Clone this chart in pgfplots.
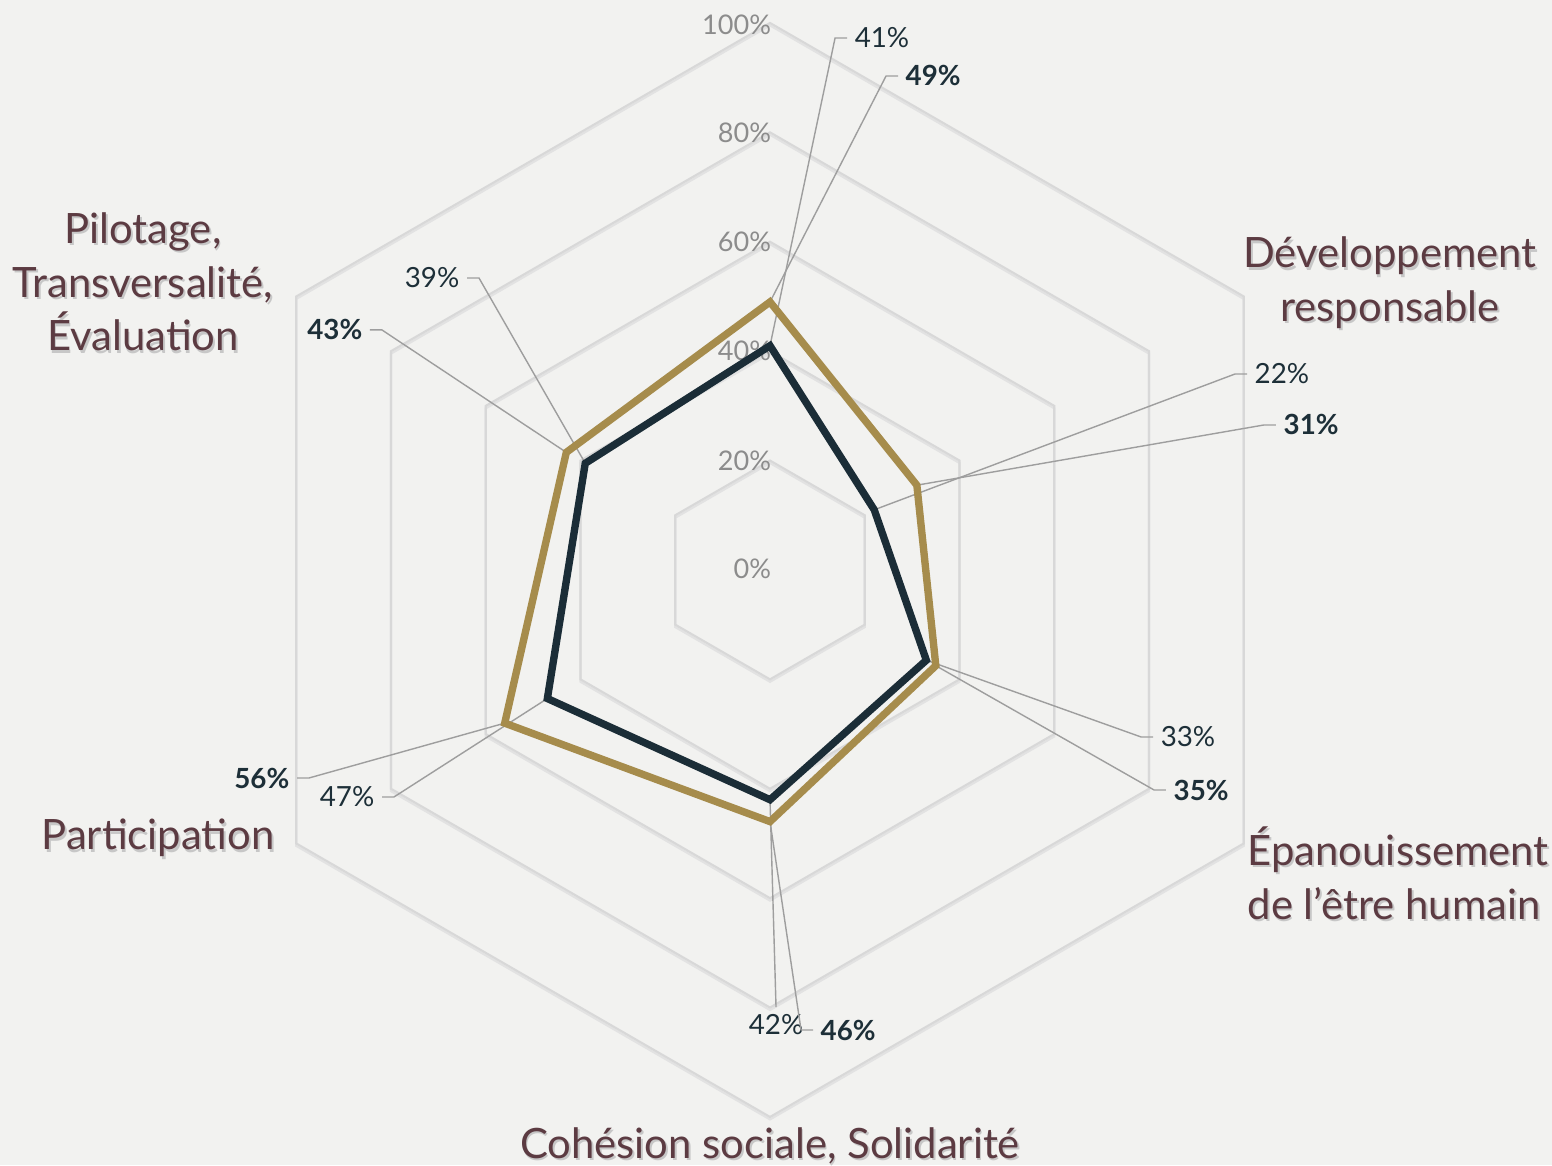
\documentclass[border=0pt]{standalone}
\usepackage{pgfplots}
\pgfplotsset{compat=1.18}
\usepackage{fontspec}
\setmainfont{Lato}
\definecolor{bg}{HTML}{F2F2F0}
\definecolor{gridc}{HTML}{D8D8D8}
\definecolor{gridsh}{HTML}{E2E2E2}
\definecolor{goldc}{HTML}{A68C4C}
\definecolor{navyc}{HTML}{1B2D37}
\definecolor{leaderc}{HTML}{9E9E9E}
\definecolor{tickc}{HTML}{8C8C8C}
\definecolor{catc}{HTML}{5C3B42}
\definecolor{valc}{HTML}{1D2F38}
\tikzset{
  leader/.style={leaderc, line width=0.4pt},
  val/.style={text=valc, font=\fontsize{7.9}{10}\selectfont, inner sep=2pt},
  ticklab/.style={text=tickc, font=\fontsize{7.7}{10}\selectfont, inner sep=0pt, anchor=east},
  cat/.style={text=catc, font=\fontsize{11.9}{15.3}\selectfont, align=center, inner sep=0pt},
  catsh/.style={text=black!22, font=\fontsize{11.9}{15.3}\selectfont, align=center, inner sep=0pt},
}
\begin{document}
\begin{tikzpicture}
\begin{axis}[
  scale only axis, width=15.52cm, height=11.65cm,
  xmin=-140.77, xmax=142.96, ymin=-108.78, ymax=104.20,
  axis lines=none, ticks=none, clip=false,
  axis background/.style={fill=bg},
  ring/.style={gridc, line width=0.6pt, data cs=polar},
  ringsh/.style={gridsh, line width=0.6pt, data cs=polar, yshift=-0.7pt},
  series/.style={line width=2.1pt, line join=miter, data cs=polar},
]
% grid rings (shadow, then line)
\foreach \r in {20,40,60,80,100} {
  \edef\temp{\noexpand\addplot[ringsh] coordinates {(90,\r) (30,\r) (-30,\r) (-90,\r) (210,\r) (150,\r)} -- cycle;}
  \temp
  \edef\temp{\noexpand\addplot[ring] coordinates {(90,\r) (30,\r) (-30,\r) (-90,\r) (210,\r) (150,\r)} -- cycle;}
  \temp
}
% tick labels
\node[ticklab] at (axis cs:0.3,0.3) {0\%};
\node[ticklab] at (axis cs:0.3,20) {20\%};
\node[ticklab] at (axis cs:0.3,40) {40\%};
\node[ticklab] at (axis cs:0.3,60) {60\%};
\node[ticklab] at (axis cs:0.3,80) {80\%};
\node[ticklab] at (axis cs:0.3,99.6) {100\%};

% value labels
\node[val, anchor=west] (a1) at (axis cs:14.08,97.26) {41\%};
\node[val, anchor=west] (b1) at (axis cs:23.40,90.31) {\textbf{49\%}};
\node[val, anchor=west] (a2) at (axis cs:87.20,35.83) {22\%};
\node[val, anchor=west] (b2) at (axis cs:92.50,26.51) {\textbf{31\%}};
\node[val, anchor=west] (a3) at (axis cs:70.02,-30.53) {33\%};
\node[val, anchor=west] (b3) at (axis cs:72.39,-40.22) {\textbf{35\%}};
\node[val, anchor=north] (a4) at (axis cs:1.10,-79.9) {42\%};
\node[val, anchor=west] (b4) at (axis cs:7.86,-84.10) {\textbf{46\%}};
\node[val, anchor=east] (a5) at (axis cs:-70.93,-41.50) {47\%};
\node[val, anchor=east] (b5) at (axis cs:-86.47,-38.03) {\textbf{56\%}};
\node[val, anchor=east] (a6) at (axis cs:-55.39,53.38) {39\%};
\node[val, anchor=east] (b6) at (axis cs:-73.13,43.88) {\textbf{43\%}};

% leader lines
\draw[leader] (axis cs:0,41) -- ([xshift=-3.4pt]a1.west) -- (a1.west);
\draw[leader] (axis cs:0,49) -- ([xshift=-3.4pt]b1.west) -- (b1.west);
\draw[leader] (axis cs:{22*0.8660},{22*0.5}) -- ([xshift=-3.4pt]a2.west) -- (a2.west);
\draw[leader] (axis cs:{31*0.8660},{31*0.5}) -- ([xshift=-3.4pt]b2.west) -- (b2.west);
\draw[leader] (axis cs:{33*0.8660},{-33*0.5}) -- ([xshift=-3.4pt]a3.west) -- (a3.west);
\draw[leader] (axis cs:{35*0.8660},{-35*0.5}) -- ([xshift=-3.4pt]b3.west) -- (b3.west);
\draw[leader] (axis cs:0,-42) -- (a4.north);
\draw[leader] (axis cs:0,-46) -- ([xshift=-3.4pt]b4.west) -- (b4.west);
\draw[leader] (axis cs:{-47*0.8660},{-47*0.5}) -- ([xshift=3.4pt]a5.east) -- (a5.east);
\draw[leader] (axis cs:{-56*0.8660},{-56*0.5}) -- ([xshift=3.4pt]b5.east) -- (b5.east);
\draw[leader] (axis cs:{-39*0.8660},{39*0.5}) -- ([xshift=3.4pt]a6.east) -- (a6.east);
\draw[leader] (axis cs:{-43*0.8660},{43*0.5}) -- ([xshift=3.4pt]b6.east) -- (b6.east);

% series
\addplot[series, goldc] coordinates {(90,49) (30,31) (-30,35) (-90,46) (210,56) (150,43)} -- cycle;
\addplot[series, navyc] coordinates {(90,41) (30,22) (-30,33) (-90,42) (210,47) (150,39)} -- cycle;

% category labels
\node[catsh, xshift=0.5pt, yshift=-0.6pt] at (axis cs:-114.63,52.65) {Pilotage,\\Transversalité,\\Évaluation};
\node[cat] at (axis cs:-114.63,52.65) {Pilotage,\\Transversalité,\\Évaluation};
\node[catsh, xshift=0.5pt, yshift=-0.6pt] at (axis cs:113.35,52.47) {Développement\\responsable};
\node[cat] at (axis cs:113.35,52.47) {Développement\\responsable};
\node[catsh, align=left, anchor=west, xshift=0.5pt, yshift=-0.6pt] at (axis cs:87.20,-55.39) {Épanouissement\\de l’être humain};
\node[cat, align=left, anchor=west] at (axis cs:87.20,-55.39) {Épanouissement\\de l’être humain};
\node[catsh, anchor=base, xshift=0.5pt, yshift=-0.6pt] at (axis cs:0,-107.5) {Cohésion sociale, Solidarité};
\node[cat, anchor=base] at (axis cs:0,-107.5) {Cohésion sociale, Solidarité};
\node[catsh, anchor=base, xshift=0.5pt, yshift=-0.6pt] at (axis cs:-111.88,-51.19) {Participation};
\node[cat, anchor=base] at (axis cs:-111.88,-51.19) {Participation};
\end{axis}
\pgfresetboundingbox
\useasboundingbox (current axis.south west) rectangle (current axis.north east);
\end{tikzpicture}
\end{document}
